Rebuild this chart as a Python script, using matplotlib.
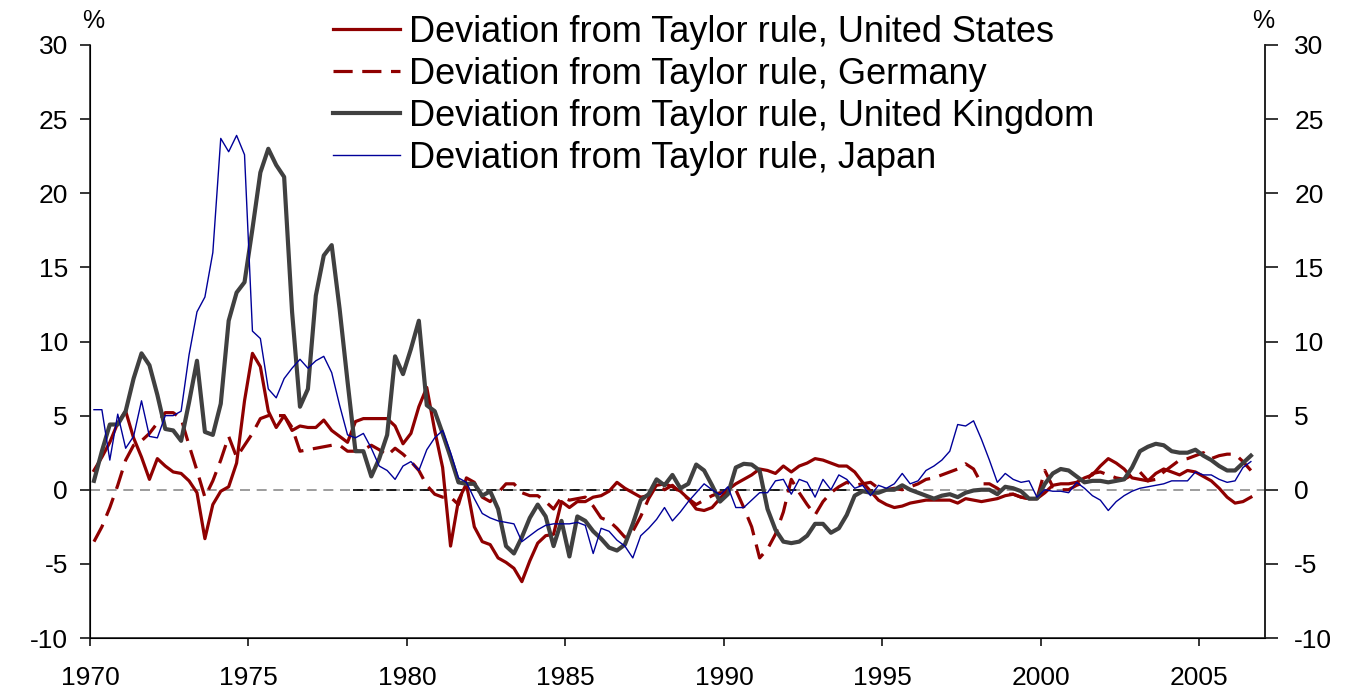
import numpy as np
import matplotlib
matplotlib.use("Agg")
from matplotlib import pyplot as plt

plt.rcParams['font.family'] = ['Liberation Sans', 'DejaVu Sans']
plt.rcParams['axes.unicode_minus'] = False

# quarterly data, 1970Q1 .. 2006Q3 (plotted at mid-quarter)
first_quarter = 1970.125

us = [1.3, 2.2, 3.2, 4.5, 5.3, 3.5, 2.2, 0.7, 2.1, 1.6, 1.2, 1.1, 0.6, -0.2, -3.3, -1.0,
      -0.1, 0.2, 1.8, 6.0, 9.2, 8.3, 5.3, 4.2, 5.0,
      4.0, 4.3, 4.2, 4.2, 4.7, 4.0, 3.6, 3.2, 4.6, 4.8, 4.8, 4.8, 4.8, 4.3, 3.1, 3.8,
      5.6, 6.9, 4.0, 1.5, -3.8, -0.7, 0.4, -2.5,
      -3.5, -3.7, -4.6, -4.9, -5.3, -6.2, -4.8, -3.6, -3.1, -3.0, -0.8, -1.2, -0.8, -0.8,
      -0.5, -0.4, -0.1, 0.5, 0.1, -0.2, -0.5, -0.4, 0.3, 0.4, 0.2, -0.1, -0.6, -1.3, -1.4,
      -1.2, -0.6,
      0.0, 0.4, 0.7, 1.0, 1.4, 1.3, 1.1, 1.6, 1.2, 1.6, 1.8, 2.1, 2.0, 1.8, 1.6, 1.6, 1.2,
      0.5, -0.1, -0.7, -1.0, -1.2, -1.1, -0.9, -0.8, -0.7, -0.7, -0.7, -0.7, -0.9, -0.6, -0.7,
      -0.8, -0.7, -0.6, -0.4, -0.3, -0.5, -0.6, -0.6, -0.2, 0.3, 0.4, 0.4, 0.5, 0.8, 1.0,
      1.6, 2.1, 1.8, 1.4, 0.8, 0.7, 0.6, 1.1, 1.4, 1.2, 1.0, 1.3, 1.2, 0.9, 0.6, 0.1, -0.5,
      -0.9, -0.8, -0.5]

germany = [-3.5, -2.5, -1.2, 0.3, 2.0, 3.0, 3.3, 3.8, 4.5, 5.2, 5.2, 4.8, 3.0, 1.3, -0.5,
           0.6, 2.0, 3.6, 2.2, 3.0, 3.8, 4.8, 5.0, 5.0, 5.0,
           4.2, 2.6, 2.7, 2.8, 2.9, 3.0, 3.0, 2.6, 2.6, 2.7, 3.0, 2.7, 2.3, 2.8, 2.4, 1.9,
           1.3, 0.3, -0.3, -0.5, -0.5, -1.0, 0.8, 0.5,
           -0.5, -0.8, -0.2, 0.4, 0.4, -0.2, -0.4, -0.4, -0.8, -1.3, -0.5, -0.7, -0.6, -0.5,
           -1.1, -1.9, -2.1, -2.6, -3.2, -2.8, -1.8, -0.6, 0.3, 0.0, 0.3, -0.2, -0.6, -1.0,
           -0.7, -0.4, -0.2,
           -0.2, 0.0, -1.2, -2.5, -4.6, -4.0, -3.0, -1.5, 0.7, -0.2, -1.0, -1.7, -0.8, -0.2,
           0.2, 0.5, 0.3, 0.4, 0.5, 0.1, 0.0, 0.1, 0.0, 0.2, 0.4, 0.7, 0.8, 1.0, 1.2, 1.4,
           1.75, 1.4,
           0.4, 0.4, 0.1, -0.3, -0.3, -0.5, -0.6, -0.6, 1.3, 0.2, 0.0, 0.0, 0.3, 0.5, 1.1,
           1.2, 1.0, 0.8, 0.7, 1.0, 1.2, 0.6, 0.7, 1.2, 1.6, 2.0, 2.1, 2.3, 2.5, 2.1, 2.3,
           2.4, 2.4, 1.9, 1.3]

uk = [0.6, 2.6, 4.4, 4.4, 5.3, 7.5, 9.2, 8.4, 6.4, 4.1, 4.0, 3.3, 5.9, 8.7, 3.9, 3.7,
      5.8, 11.4, 13.3, 14.0, 17.6, 21.4, 23.0, 21.9, 21.1,
      12.0, 5.6, 6.8, 13.1, 15.8, 16.5, 12.2, 7.3, 2.6, 2.6, 0.9, 2.1, 3.7, 9.0, 7.8, 9.5,
      11.4, 5.7, 5.3, 3.8, 2.2, 0.5, 0.4, 0.4,
      -0.4, -0.1, -1.3, -3.8, -4.3, -3.2, -1.9, -1.0, -1.8, -3.8, -2.1, -4.5, -1.8, -2.1,
      -2.8, -3.3, -3.9, -4.1, -3.7, -2.3, -0.7, -0.3, 0.7, 0.3, 1.0, 0.1, 0.4, 1.7, 1.3,
      0.3, -0.8,
      -0.3, 1.5, 1.75, 1.7, 1.3, -1.3, -2.7, -3.5, -3.6, -3.5, -3.1, -2.3, -2.3, -2.9,
      -2.6, -1.7, -0.4, -0.1, -0.2, -0.2, 0.0, 0.0, 0.3, 0.0, -0.2, -0.4, -0.6, -0.4,
      -0.3, -0.5, -0.2, -0.05,
      0.0, 0.0, -0.3, 0.2, 0.1, -0.1, -0.6, -0.6, 0.4, 1.1, 1.4, 1.3, 0.9, 0.5, 0.6, 0.6,
      0.5, 0.6, 0.7, 1.5, 2.6, 2.9, 3.1, 3.0, 2.6, 2.5, 2.5, 2.7, 2.3, 2.0, 1.6, 1.3,
      1.3, 1.8, 2.3]

japan = [5.4, 5.4, 2.0, 5.1, 2.8, 3.6, 6.0, 3.6, 3.5, 5.0, 5.0, 5.3, 9.1, 12.0, 13.0,
         16.0, 23.7, 22.8, 23.9, 22.6, 10.7, 10.2, 6.8, 6.2, 7.5,
         8.2, 8.8, 8.2, 8.7, 9.0, 7.9, 5.7, 3.7, 3.5, 3.8, 2.8, 1.6, 1.3, 0.7, 1.6, 1.9,
         1.3, 2.7, 3.5, 4.0, 2.5, 0.8, 0.5, -0.6,
         -1.6, -1.9, -2.1, -2.2, -2.3, -3.5, -3.1, -2.7, -2.4, -2.3, -2.3, -2.3, -2.2, -2.4,
         -4.3, -2.6, -2.8, -3.4, -3.8, -4.6, -3.1, -2.6, -2.0, -1.2, -2.1, -1.5, -0.8, -0.2,
         0.4, 0.0, -0.35,
         0.2, -1.2, -1.2, -0.7, -0.2, -0.2, 0.6, 0.7, -0.3, 0.7, 0.5, -0.5, 0.7, 0.0, 1.0,
         0.7, 0.1, 0.3, -0.4, 0.3, 0.1, 0.4, 1.1, 0.4, 0.6, 1.3, 1.6, 2.0, 2.6, 4.4, 4.3,
         4.65,
         3.4, 2.0, 0.5, 1.1, 0.7, 0.5, 0.6, -0.5, 0.0, -0.1, -0.1, -0.2, 0.5, 0.1, -0.4,
         -0.7, -1.4, -0.8, -0.4, -0.1, 0.1, 0.2, 0.3, 0.4, 0.6, 0.6, 0.6, 1.2, 1.0, 1.0,
         0.7, 0.5, 0.6, 1.5, 1.9]

labels = ['Deviation from Taylor rule, United States',
          'Deviation from Taylor rule, Germany',
          'Deviation from Taylor rule, United Kingdom',
          'Deviation from Taylor rule, Japan']
year_ticks = [1970, 1975, 1980, 1985, 1990, 1995, 2000, 2005]
pct_ticks = [-10, -5, 0, 5, 10, 15, 20, 25, 30]

t = first_quarter + 0.25 * np.arange(len(us))

red = '#8f0000'
grey = '#404040'
navy = '#000099'

fig = plt.figure(figsize=(13.61, 6.98), dpi=100)
ax = fig.add_axes([90/1361, 1 - 638/698, 1175/1361, 593/698])

# zero line: grey dashed, black in the middle part
ax.plot([1970, 2007.07], [0, 0], color='#8c8c8c', lw=1.2, ls=(0, (6, 4)), zorder=1)
ax.plot([1978.3, 1994.7], [0, 0], color='black', lw=1.2, ls=(0, (6, 4)), zorder=1)

l1, = ax.plot(t, us, color=red, lw=2.3, zorder=3)
l2, = ax.plot(t, germany, color=red, lw=2.3, ls=(0, (6, 3)), zorder=3)
l3, = ax.plot(t, uk, color=grey, lw=3.0, zorder=4)
l4, = ax.plot(t, japan, color=navy, lw=1.0, zorder=5)

ax.set_xlim(1970, 2007.07)
ax.set_ylim(-10, 30)
ax.set_xticks(year_ticks)
ax.set_yticks(pct_ticks)
ax.spines['top'].set_visible(False)
for s in ['left', 'right', 'bottom']:
    ax.spines[s].set_linewidth(1.2)
    ax.spines[s].set_color('#222222')
ax.tick_params(axis='x', direction='out', length=6, width=1.1, pad=14, labelsize=19)
ax.tick_params(axis='y', direction='out', length=7, width=1.1, pad=9, labelsize=19)

ax2 = ax.twinx()
ax2.set_ylim(-10, 30)
ax2.set_yticks(pct_ticks)
ax2.spines['top'].set_visible(False)
ax2.spines['right'].set_linewidth(1.2)
ax2.spines['right'].set_color('#222222')
ax2.tick_params(axis='y', direction='out', length=9, width=1.1, pad=12, labelsize=19)

fig.text(93/1361, 1 - 21/698, '%', ha='center', va='center', fontsize=18)
fig.text(1263/1361, 1 - 21/698, '%', ha='center', va='center', fontsize=18)

fig.legend([l1, l2, l3, l4], labels, loc='upper left',
           bbox_to_anchor=(333/1361, 1 - 15/698), frameon=False, fontsize=26,
           handlelength=1.85, handletextpad=0.25, labelspacing=0.19,
           borderpad=0, borderaxespad=0)

fig.savefig('out.png', dpi=100)
